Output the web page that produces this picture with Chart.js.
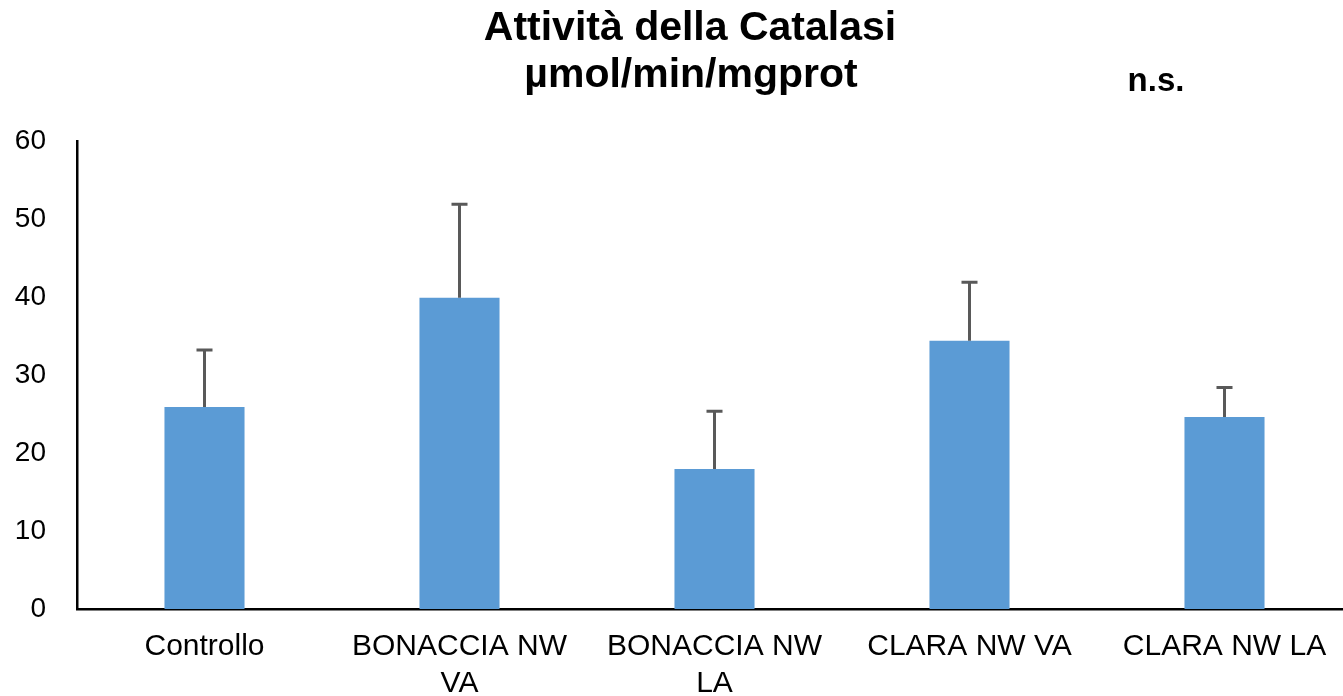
<!DOCTYPE html>
<html>
<head>
<meta charset="utf-8">
<script src="https://cdn.jsdelivr.net/npm/chart.js@4/dist/chart.umd.min.js"></script>
<style>
  html, body { margin: 0; padding: 0; background: #fff; overflow: hidden; }
  #wrap { width: 1352px; height: 696px; }
</style>
</head>
<body>
<div id="wrap"><canvas id="chart"></canvas></div>
<script>
// categories, means and standard errors (µmol/min/mg prot)
const categories = ["Controllo", ["BONACCIA NW", "VA"], ["BONACCIA NW", "LA"], "CLARA NW VA", "CLARA NW LA"];
const means = [25.9, 39.9, 17.95, 34.4, 24.6];
const errors = [7.3, 12.0, 7.4, 7.5, 3.8];
const yTicks = [0, 10, 20, 30, 40, 50, 60];
const titleLines = ["Attività della Catalasi", "µmol/min/mgprot"];
const note = "n.s.";

const FONT = "'Liberation Sans', Arial, Helvetica, sans-serif";

// vertical error whiskers with a cap on top of each bar
const errorBars = {
  id: "errorBars",
  afterDatasetsDraw(chart) {
    const ctx = chart.ctx;
    const y = chart.scales.y;
    const meta = chart.getDatasetMeta(0);
    ctx.save();
    ctx.strokeStyle = "#595959";
    ctx.lineWidth = 3;
    meta.data.forEach((bar, i) => {
      const top = y.getPixelForValue(means[i] + errors[i]);
      ctx.beginPath();
      ctx.moveTo(bar.x, bar.y);
      ctx.lineTo(bar.x, top);
      ctx.moveTo(bar.x - 8, top);
      ctx.lineTo(bar.x + 8, top);
      ctx.stroke();
    });
    ctx.restore();
  }
};

// two-line heading plus the significance note
const heading = {
  id: "heading",
  afterDraw(chart) {
    const ctx = chart.ctx;
    ctx.save();
    ctx.fillStyle = "#000";
    ctx.textAlign = "center";
    ctx.textBaseline = "alphabetic";
    ctx.font = "bold 41px " + FONT;
    ctx.fillText(titleLines[0], 690, 40);
    ctx.fillText(titleLines[1], 691, 87);
    ctx.font = "bold 33px " + FONT;
    ctx.fillText(note, 1156, 91);
    ctx.restore();
  }
};

new Chart(document.getElementById("chart"), {
  type: "bar",
  data: {
    labels: categories,
    datasets: [{
      data: means,
      backgroundColor: "#5B9BD5",
      borderWidth: 0,
      barPercentage: 0.314,
      categoryPercentage: 1.0
    }]
  },
  options: {
    responsive: true,
    maintainAspectRatio: false,
    animation: false,
    layout: { padding: { top: 141, left: 0, right: 0, bottom: 0 } },
    plugins: {
      legend: { display: false },
      tooltip: { enabled: false },
      title: { display: false }
    },
    scales: {
      x: {
        grid: { display: false, drawTicks: false },
        border: { display: true, color: "#000", width: 2.5 },
        ticks: {
          color: "#000",
          padding: 19,
          maxRotation: 0,
          autoSkip: false,
          font: { family: FONT, size: 30, lineHeight: 1.23 }
        },
        afterFit: (scale) => { scale.height = 87; }
      },
      y: {
        min: 0,
        max: 60,
        grid: { display: false, drawTicks: false },
        border: { display: true, color: "#000", width: 2.5 },
        afterBuildTicks: (scale) => { scale.ticks = yTicks.map(v => ({ value: v })); },
        ticks: {
          color: "#000",
          padding: 31,
          font: { family: FONT, size: 28 }
        },
        afterFit: (scale) => { scale.width = 77; }
      }
    }
  },
  plugins: [errorBars, heading]
});
</script>
</body>
</html>
